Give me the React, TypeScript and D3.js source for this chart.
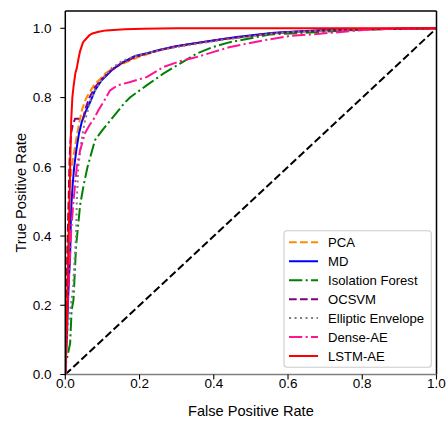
import React from "react";
import * as d3 from "d3";

type Pt = [number, number];

const pcaRoc: Pt[] = [
  [0, 0], [0.002, 0.15], [0.004, 0.3], [0.006, 0.4], [0.01, 0.5], [0.017, 0.6], [0.025, 0.65],
  [0.031, 0.69], [0.038, 0.73], [0.045, 0.765], [0.055, 0.795], [0.065, 0.815], [0.08, 0.84],
  [0.095, 0.855], [0.107, 0.869], [0.13, 0.885], [0.16, 0.9], [0.2, 0.918], [0.25, 0.935],
  [0.3, 0.948], [0.36, 0.958], [0.42, 0.968], [0.5, 0.978], [0.56, 0.986], [0.62, 0.99],
  [0.7, 0.994], [0.8, 0.997], [0.9, 0.999], [1, 1],
];

const mdRoc: Pt[] = [
  [0, 0], [0.004, 0.1], [0.007, 0.2], [0.01, 0.28], [0.013, 0.34], [0.015, 0.45], [0.017, 0.5],
  [0.02, 0.55], [0.024, 0.6], [0.03, 0.65], [0.037, 0.697], [0.045, 0.732], [0.055, 0.76],
  [0.067, 0.787], [0.08, 0.821], [0.098, 0.85], [0.125, 0.879], [0.152, 0.9], [0.188, 0.92],
  [0.22, 0.928], [0.255, 0.938], [0.283, 0.945], [0.336, 0.955], [0.398, 0.965], [0.462, 0.975],
  [0.52, 0.982], [0.563, 0.987], [0.623, 0.991], [0.7, 0.995], [0.8, 0.998], [0.9, 0.999], [1, 1],
];

const isoForestRoc: Pt[] = [
  [0, 0], [0.002, 0.033], [0.013, 0.09], [0.017, 0.186], [0.022, 0.215], [0.029, 0.37],
  [0.04, 0.49], [0.05, 0.55], [0.06, 0.6], [0.08, 0.677], [0.1, 0.706], [0.128, 0.743],
  [0.16, 0.785], [0.175, 0.801], [0.219, 0.835], [0.264, 0.869], [0.309, 0.898], [0.354, 0.927],
  [0.398, 0.946], [0.444, 0.96], [0.551, 0.982], [0.66, 0.988], [0.8, 0.996], [0.9, 0.999], [1, 1],
];

const ocsvmRoc: Pt[] = [
  [0, 0], [0.003, 0.15], [0.005, 0.3], [0.007, 0.4], [0.009, 0.5], [0.011, 0.6], [0.013, 0.66],
  [0.016, 0.7], [0.02, 0.72], [0.025, 0.735], [0.026, 0.739], [0.048, 0.739], [0.055, 0.77],
  [0.065, 0.8], [0.08, 0.83], [0.1, 0.855], [0.125, 0.88], [0.15, 0.898], [0.19, 0.918],
  [0.25, 0.936], [0.3, 0.948], [0.36, 0.958], [0.42, 0.968], [0.5, 0.978], [0.56, 0.986],
  [0.62, 0.99], [0.7, 0.994], [0.8, 0.997], [1, 1],
];

const ellipticRoc: Pt[] = [
  [0, 0], [0.003, 0.08], [0.008, 0.15], [0.015, 0.2], [0.021, 0.25], [0.025, 0.33], [0.029, 0.4],
  [0.031, 0.5], [0.035, 0.6], [0.044, 0.677], [0.053, 0.734], [0.06, 0.76], [0.069, 0.795],
  [0.08, 0.82], [0.1, 0.855], [0.125, 0.885], [0.152, 0.905], [0.19, 0.921], [0.25, 0.936],
  [0.3, 0.946], [0.36, 0.956], [0.42, 0.966], [0.5, 0.977], [0.56, 0.985], [0.62, 0.99],
  [0.7, 0.994], [0.8, 0.997], [1, 1],
];

const denseAeRoc: Pt[] = [
  [0, 0], [0.003, 0.12], [0.008, 0.25], [0.012, 0.33], [0.016, 0.42], [0.022, 0.5], [0.031, 0.6],
  [0.04, 0.648], [0.053, 0.697], [0.065, 0.72], [0.075, 0.735], [0.09, 0.765], [0.107, 0.795],
  [0.12, 0.82], [0.14, 0.835], [0.175, 0.845], [0.219, 0.859], [0.264, 0.888], [0.309, 0.905],
  [0.354, 0.917], [0.4, 0.932], [0.444, 0.946], [0.49, 0.956], [0.533, 0.965], [0.605, 0.978],
  [0.66, 0.982], [0.75, 0.99], [0.81, 0.996], [0.9, 0.999], [1, 1],
];

const lstmAeRoc: Pt[] = [
  [0, 0], [0.003, 0.1], [0.005, 0.2], [0.007, 0.3], [0.009, 0.4], [0.011, 0.48], [0.013, 0.6],
  [0.016, 0.735], [0.019, 0.8], [0.022, 0.83], [0.027, 0.87], [0.031, 0.885], [0.036, 0.915],
  [0.04, 0.935], [0.048, 0.96], [0.058, 0.972], [0.065, 0.98], [0.075, 0.986], [0.09, 0.99],
  [0.11, 0.994], [0.16, 0.997], [0.21, 0.999], [0.3, 1], [1, 1],
];

const chancePts: Pt[] = [[0, 0], [1, 1]];

const seriesNames = ["PCA", "MD", "Isolation Forest", "OCSVM", "Elliptic Envelope", "Dense-AE", "LSTM-AE"];
const seriesData = [pcaRoc, mdRoc, isoForestRoc, ocsvmRoc, ellipticRoc, denseAeRoc, lstmAeRoc];
const seriesColors = ["#ff8c00", "#0000ff", "#008000", "#800080", "#808080", "#ff1493", "#ff0000"];
const seriesDash = ["7.7,3.3", "", "13.3,3.3,2.1,3.3", "7.7,3.3", "2.1,3.4", "13.3,3.3,2.1,3.3", ""];

const xTicks = [0, 0.2, 0.4, 0.6, 0.8, 1.0];
const yTicks = [0, 0.2, 0.4, 0.6, 0.8, 1.0];

const W = 448;
const H = 421;
const FONT = "'Liberation Sans', Arial, Helvetica, sans-serif";

export default function App() {
  const x = d3.scaleLinear().domain([0, 1]).range([65.3, 436.5]);
  const y = d3.scaleLinear().domain([0, 1.05]).range([374.5, 11]);
  const line = d3
    .line<Pt>()
    .x((d) => x(d[0]))
    .y((d) => y(d[1]));

  const left = x(0);
  const right = x(1);
  const top = y(1.05);
  const bottom = y(0);

  const legX = 284;
  const legY = 230.7;
  const legW = 147.3;
  const legH = 136.6;
  const rowY = (i: number) => 242.3 + i * 18.95;

  return (
    <svg
      width={W}
      height={H}
      style={{ position: "absolute", left: 0, top: 0, background: "#fff" }}
      fontFamily={FONT}
    >
      <defs>
        <clipPath id="plotClip">
          <rect x={left} y={top} width={right - left} height={bottom - top} />
        </clipPath>
      </defs>
      <rect x={0} y={0} width={W} height={H} fill="#fff" />

      <g clipPath="url(#plotClip)">
        <path d={line(chancePts) || ""} fill="none" stroke="#000" strokeWidth={2} strokeDasharray="7.7,3.3" />
        {seriesData.map((d, i) => (
          <path
            key={seriesNames[i]}
            d={line(d) || ""}
            fill="none"
            stroke={seriesColors[i]}
            strokeWidth={2}
            strokeDasharray={seriesDash[i] || undefined}
            strokeLinejoin="round"
          />
        ))}
      </g>

      {/* spines */}
      <line x1={left} x2={right} y1={top} y2={top} stroke="#000" strokeWidth={1.5} />
      <line x1={right} x2={right} y1={top} y2={bottom} stroke="#000" strokeWidth={1.5} />
      <line x1={left} x2={right} y1={bottom} y2={bottom} stroke="#808080" strokeWidth={1.5} />
      <line x1={left} x2={left} y1={top} y2={bottom + 0.75} stroke="#000" strokeWidth={1.5} />

      {/* x ticks */}
      {xTicks.map((t) => (
        <g key={"x" + t}>
          <line x1={x(t)} x2={x(t)} y1={bottom} y2={bottom + 5} stroke="#000" strokeWidth={1.1} />
          <text x={x(t)} y={388} textAnchor="middle" fontSize={13.5} fill="#000">
            {t.toFixed(1)}
          </text>
        </g>
      ))}
      {/* y ticks */}
      {yTicks.map((t) => (
        <g key={"y" + t}>
          <line x1={left - 5} x2={left} y1={y(t)} y2={y(t)} stroke="#000" strokeWidth={1.1} />
          <text x={51.5} y={y(t) + 4.8} textAnchor="end" fontSize={13.5} fill="#000">
            {t.toFixed(1)}
          </text>
        </g>
      ))}

      <text x={(left + right) / 2} y={416.4} textAnchor="middle" fontSize={14.6} fill="#000">
        False Positive Rate
      </text>
      <text
        transform={`translate(26,${(top + bottom) / 2}) rotate(-90)`}
        textAnchor="middle"
        fontSize={14.6}
        fill="#000"
      >
        True Positive Rate
      </text>

      {/* legend */}
      <rect
        x={legX}
        y={legY}
        width={legW}
        height={legH}
        rx={3}
        fill="#fff"
        fillOpacity={0.8}
        stroke="#cccccc"
        strokeWidth={1.1}
      />
      {seriesNames.map((name, i) => (
        <g key={"leg" + name}>
          <line
            x1={289}
            x2={318}
            y1={rowY(i)}
            y2={rowY(i)}
            stroke={seriesColors[i]}
            strokeWidth={2}
            strokeDasharray={seriesDash[i] || undefined}
          />
          <text x={328} y={rowY(i) + 4.7} fontSize={13.1} fill="#000">
            {name}
          </text>
        </g>
      ))}
    </svg>
  );
}
